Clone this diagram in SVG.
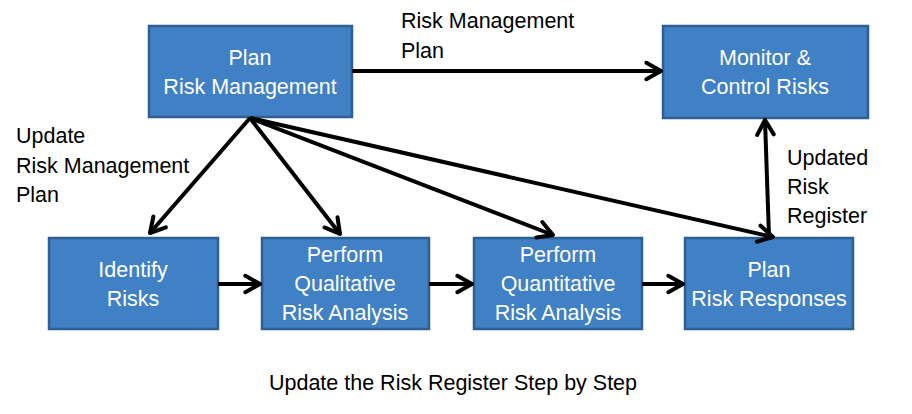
<svg xmlns="http://www.w3.org/2000/svg" width="912" height="414" viewBox="0 0 912 414">
<defs>
<style>
.box{fill:#4080C4;stroke:#2F5E93;stroke-width:2.5}
.bt{fill:#fff;font-family:"Liberation Sans",Arial,sans-serif;font-size:21.5px;text-anchor:middle}
.lb{fill:#000;font-family:"Liberation Sans",Arial,sans-serif;font-size:21.5px}
.ln{stroke:#000;stroke-width:4;fill:none}
</style>
<marker id="ah" viewBox="0 0 12 12" refX="10" refY="6" markerWidth="5.5" markerHeight="5.5" markerUnits="strokeWidth" orient="auto">
<path d="M2,1.5 L10,6 L2,10.5" fill="none" stroke="#000" stroke-width="2.2" stroke-linecap="round" stroke-linejoin="round"/>
</marker>
</defs>
<rect width="912" height="414" fill="#fff"/>
<g id="plan-rm"><rect class="box" x="149" y="26" width="203" height="91"/><text class="bt" x="250" y="65">Plan</text><text class="bt" x="250" y="94">Risk Management</text></g>
<g id="monitor"><rect class="box" x="663" y="26" width="205" height="92"/><text class="bt" x="765" y="65">Monitor &amp;</text><text class="bt" x="765" y="94">Control Risks</text></g>
<g id="identify"><rect class="box" x="49" y="238" width="169" height="91"/><text class="bt" x="133" y="277">Identify</text><text class="bt" x="133" y="306">Risks</text></g>
<g id="qualitative"><rect class="box" x="262" y="238" width="167" height="91"/><text class="bt" x="345" y="262">Perform</text><text class="bt" x="345" y="291">Qualitative</text><text class="bt" x="345" y="320">Risk Analysis</text></g>
<g id="quantitative"><rect class="box" x="474" y="238" width="168" height="91"/><text class="bt" x="558" y="262">Perform</text><text class="bt" x="558" y="291">Quantitative</text><text class="bt" x="558" y="320">Risk Analysis</text></g>
<g id="plan-rr"><rect class="box" x="685" y="238" width="168" height="91"/><text class="bt" x="769" y="277">Plan</text><text class="bt" x="769" y="306">Risk Responses</text></g>
<g id="connectors">
<line class="ln" x1="352" y1="71" x2="661" y2="71" marker-end="url(#ah)"/>
<line class="ln" x1="250" y1="118" x2="150" y2="233" marker-end="url(#ah)"/>
<line class="ln" x1="250" y1="118" x2="340" y2="234" marker-end="url(#ah)"/>
<line class="ln" x1="250" y1="118" x2="553" y2="235" marker-end="url(#ah)"/>
<line class="ln" x1="250" y1="118" x2="773" y2="237" marker-end="url(#ah)"/>
<line class="ln" x1="769" y1="237" x2="765" y2="120" marker-end="url(#ah)"/>
<line class="ln" x1="218" y1="284" x2="260" y2="284" marker-end="url(#ah)"/>
<line class="ln" x1="429" y1="284" x2="472" y2="284" marker-end="url(#ah)"/>
<line class="ln" x1="642" y1="284" x2="683" y2="284" marker-end="url(#ah)"/>
</g>
<g id="labels">
<text class="lb" x="401" y="28">Risk Management</text><text class="lb" x="401" y="58">Plan</text>
<text class="lb" x="16" y="143">Update</text><text class="lb" x="16" y="173">Risk Management</text><text class="lb" x="16" y="202">Plan</text>
<text class="lb" x="787" y="165">Updated</text><text class="lb" x="787" y="194">Risk</text><text class="lb" x="787" y="223">Register</text>
<text class="lb" x="453" y="390" text-anchor="middle">Update the Risk Register Step by Step</text>
</g>
</svg>
